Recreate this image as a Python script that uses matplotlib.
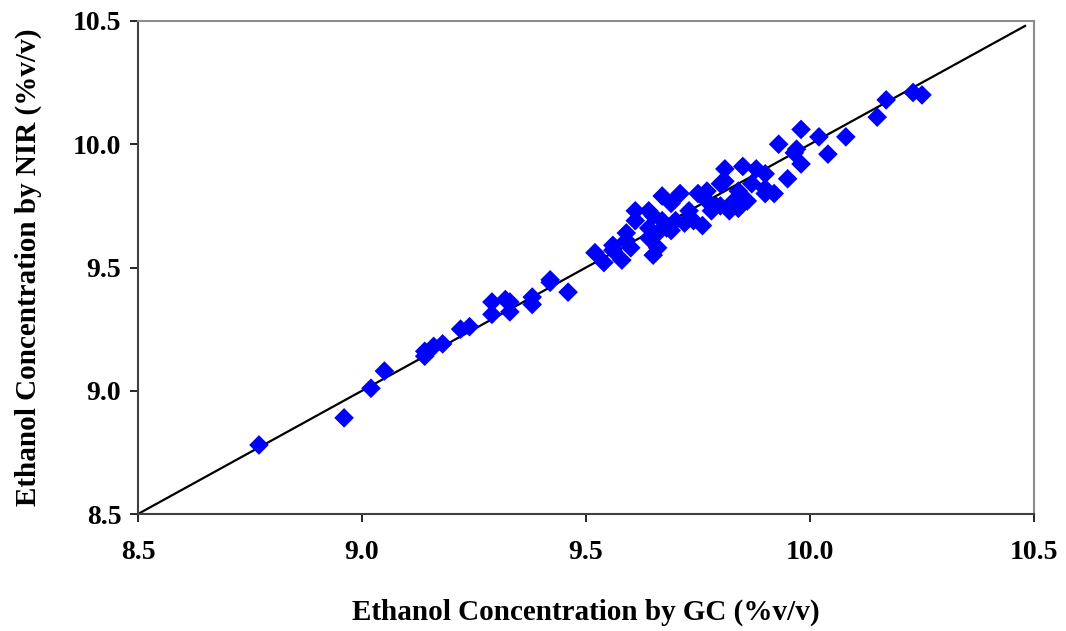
import numpy as np
import matplotlib.pyplot as plt

# GC reference vs NIR predicted ethanol (%v/v)
gc = [8.77, 8.96, 9.02, 9.05, 9.14, 9.14, 9.16, 9.18, 9.22, 9.24,
      9.29, 9.29, 9.32, 9.33, 9.33, 9.38, 9.38, 9.42, 9.42, 9.46,
      9.52, 9.54, 9.56, 9.56, 9.58, 9.59, 9.59, 9.60, 9.61, 9.61,
      9.64, 9.64, 9.64, 9.65, 9.65, 9.66, 9.67, 9.66, 9.67, 9.68,
      9.69, 9.69, 9.70, 9.71, 9.72, 9.73, 9.74, 9.75, 9.76, 9.77,
      9.77, 9.78, 9.79, 9.80, 9.80, 9.81, 9.81, 9.82, 9.83, 9.84,
      9.84, 9.85, 9.86, 9.87, 9.88, 9.90, 9.90, 9.92, 9.90, 9.93,
      9.95, 9.97, 9.965, 9.98, 9.98, 10.02, 10.04, 10.08, 10.15, 10.17,
      10.23, 10.25]
nir = [8.78, 8.89, 9.01, 9.08, 9.16, 9.14, 9.18, 9.19, 9.25, 9.26,
       9.36, 9.31, 9.37, 9.36, 9.32, 9.38, 9.35, 9.45, 9.44, 9.40,
       9.56, 9.52, 9.59, 9.57, 9.53, 9.64, 9.61, 9.58, 9.73, 9.69,
       9.73, 9.62, 9.66, 9.71, 9.55, 9.58, 9.69, 9.64, 9.79, 9.66,
       9.65, 9.76, 9.69, 9.80, 9.68, 9.73, 9.69, 9.80, 9.67, 9.81,
       9.77, 9.73, 9.75, 9.84, 9.75, 9.90, 9.85, 9.73, 9.77, 9.81,
       9.74, 9.91, 9.77, 9.84, 9.90, 9.80, 9.88, 9.80, 9.82, 10.00,
       9.86, 9.98, 9.965, 10.06, 9.92, 10.03, 9.96, 10.03, 10.11, 10.18,
       10.21, 10.20]

# 1:1 line end points
line_x = [8.5, 10.48]

axis_min, axis_max = 8.5, 10.5
ticks = [8.5, 9.0, 9.5, 10.0, 10.5]

plt.rcParams['font.family'] = ['Liberation Serif', 'DejaVu Serif']
plt.rcParams['font.weight'] = 'bold'

fig = plt.figure(figsize=(10.66, 6.31), dpi=100)
ax = fig.add_axes([138 / 1066, 1 - 514 / 631, (1034 - 138) / 1066, (514 - 21) / 631])

ax.plot(line_x, line_x, color='black', lw=1.6, zorder=2)
ax.scatter(gc, nir, marker='D', s=100, color='#0000FF', edgecolors='none', zorder=3)

ax.set_xlim(axis_min, axis_max)
ax.set_ylim(axis_min, axis_max)
ax.set_xticks(ticks)
ax.set_yticks(ticks)
ax.set_xticklabels([f'{t:.1f}' for t in ticks], fontsize=20, fontweight='bold')
ax.set_yticklabels([f'{t:.1f}' for t in ticks], fontsize=20, fontweight='bold')
ax.tick_params(axis='x', direction='out', length=6, width=1.2, pad=13, colors='black')
ax.tick_params(axis='y', direction='out', length=6, width=1.2, pad=6, colors='black')

for side in ['left', 'bottom']:
    ax.spines[side].set_color('#404040')
    ax.spines[side].set_linewidth(1.5)
for side in ['top', 'right']:
    ax.spines[side].set_color('#8c8c8c')
    ax.spines[side].set_linewidth(1.5)

ax.set_xlabel('Ethanol Concentration by GC (%v/v)', fontsize=21, fontweight='bold')
ax.set_ylabel('Ethanol Concentration by NIR (%v/v)', fontsize=21, fontweight='bold')
ax.xaxis.set_label_coords(0.5, -0.172)
ax.yaxis.set_label_coords(-0.107, 0.5)

fig.savefig('out.png', dpi=100)
